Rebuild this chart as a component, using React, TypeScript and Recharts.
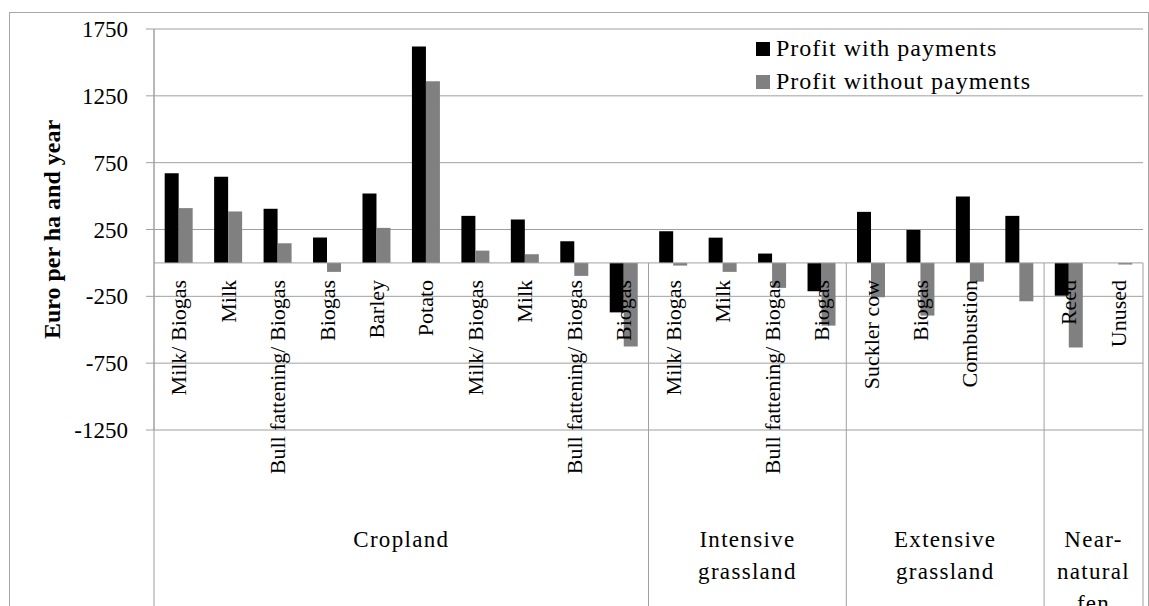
import { BarChart, Bar, XAxis, YAxis, CartesianGrid, ReferenceLine, Legend } from "recharts";

// crops / uses along the axis
const categories = [
  "Milk/ Biogas", "Milk", "Bull fattening/ Biogas", "Biogas", "Barley", "Potato",
  "Milk/ Biogas", "Milk", "Bull fattening/ Biogas", "Biogas",
  "Milk/ Biogas", "Milk", "Bull fattening/ Biogas", "Biogas",
  "Suckler cow", "Biogas", "Combustion", "",
  "Reed", "Unused",
];
const withPayments = [670, 645, 405, 190, 520, 1620, 352, 325, 162, -370, 237, 189, 70, -212, 382, 247, 496, 352, -245, 0];
const withoutPayments = [410, 385, 147, -67, 262, 1360, 92, 65, -97, -626, -20, -67, -187, -469, -257, -394, -140, -287, -632, -12];

// land use groups (second level of the axis)
const groupNames = [["Cropland"], ["Intensive", "grassland"], ["Extensive", "grassland"], ["Near-", "natural", "fen"]];
const groupSizes = [10, 4, 4, 2];

const yTicks = [-1250, -750, -250, 250, 750, 1250, 1750];

const data = categories.map((c, i) => ({
  id: "c" + i,
  label: c,
  withP: withPayments[i],
  withoutP: withoutPayments[i],
}));

const FONT = "'Liberation Serif', 'Times New Roman', serif";
const W = 1149;
const H = 640;
const TOP = 29;
const LEFT = 154;
const RIGHT = 6;
const XAXIS_H = 210;
const Y_MIN = -1250;
const Y_MAX = 1750;
const PLOT_H = H - TOP - XAXIS_H;
const PLOT_W = W - LEFT - RIGHT;
const BAND = PLOT_W / categories.length;
const ZERO_Y = TOP + (Y_MAX / (Y_MAX - Y_MIN)) * PLOT_H;
const LINE = "#a0a0a0";

const groupStarts = groupSizes.map((_, g) => groupSizes.slice(0, g).reduce((a, b) => a + b, 0));

const CategoryTick = (props: any) => {
  const { x, payload } = props;
  const i = payload?.index ?? props.index;
  const label = categories[i];
  const g = groupStarts.indexOf(i);
  const left = x - BAND / 2;
  return (
    <g>
      {label && (
        <text
          transform={`translate(${x},${ZERO_Y + 17}) rotate(-90)`}
          textAnchor="end"
          dominantBaseline="central"
          fontFamily={FONT}
          fontSize={22}
          fill="#000"
        >
          {label}
        </text>
      )}
      {g >= 0 && (
        <>
          <line x1={left} x2={left} y1={g === 0 ? TOP : ZERO_Y} y2={H} stroke={LINE} />
          <text
            x={left + (groupSizes[g] * BAND) / 2}
            y={ZERO_Y + 284}
            textAnchor="middle"
            fontFamily={FONT}
            fontSize={23}
            letterSpacing={1.3}
            fill="#000"
          >
            {groupNames[g].map((ln, k) => (
              <tspan key={k} x={left + (groupSizes[g] * BAND) / 2} dy={k === 0 ? 0 : 32}>
                {ln}
              </tspan>
            ))}
          </text>
        </>
      )}
      {i === categories.length - 1 && (
        <line x1={x + BAND / 2} x2={x + BAND / 2} y1={ZERO_Y} y2={H} stroke={LINE} />
      )}
    </g>
  );
};

const renderLegend = ({ payload }: any) => (
  <div style={{ fontFamily: FONT, fontSize: 24, letterSpacing: 1, color: "#000" }}>
    {(payload || []).map((p: any) => (
      <div key={p.value} style={{ display: "flex", alignItems: "center", height: 33, whiteSpace: "nowrap" }}>
        <span style={{ display: "inline-block", width: 14, height: 14, background: p.color, marginRight: 6 }} />
        {p.value}
      </div>
    ))}
  </div>
);

const App = () => {
  return (
    <div style={{ position: "absolute", left: 0, top: 0, width: W, height: 606, overflow: "hidden", background: "#fff" }}>
      <div
        style={{
          position: "absolute",
          left: 9,
          top: 12,
          width: 1138,
          height: 700,
          border: "1px solid #a6a6a6",
        }}
      />
      <BarChart
        width={W}
        height={H}
        data={data}
        margin={{ top: TOP, right: RIGHT, left: 0, bottom: 0 }}
        barCategoryGap="21.6%"
        barGap={0}
        style={{ fontFamily: FONT }}
      >
        <CartesianGrid vertical={false} stroke={LINE} strokeDasharray="" />
        <XAxis
          dataKey="id"
          height={XAXIS_H}
          interval={0}
          axisLine={false}
          tickLine={false}
          tick={<CategoryTick />}
        />
        <YAxis
          width={LEFT}
          domain={[Y_MIN, Y_MAX]}
          ticks={yTicks}
          interval={0}
          axisLine={{ stroke: LINE }}
          tickLine={{ stroke: LINE }}
          tickSize={8}
          tickMargin={18}
          tick={{ fill: "#000", fontSize: 23, fontFamily: FONT }}
          label={{
            content: () => (
              <text
                transform={`translate(52,${TOP + PLOT_H / 2}) rotate(-90)`}
                textAnchor="middle"
                dominantBaseline="central"
                fontFamily={FONT}
                fontSize={24}
                fontWeight="bold"
                fill="#000"
              >
                Euro per ha and year
              </text>
            ),
          }}
        />
        <ReferenceLine y={0} stroke={LINE} />
        <Legend
          layout="vertical"
          align="center"
          verticalAlign="middle"
          content={renderLegend}
          wrapperStyle={{ left: 756, top: 32, width: "auto" }}
        />
        <Bar dataKey="withP" name="Profit with payments" fill="#000000" isAnimationActive={false} />
        <Bar dataKey="withoutP" name="Profit without payments" fill="#808080" isAnimationActive={false} />
      </BarChart>
    </div>
  );
};

export default App;
